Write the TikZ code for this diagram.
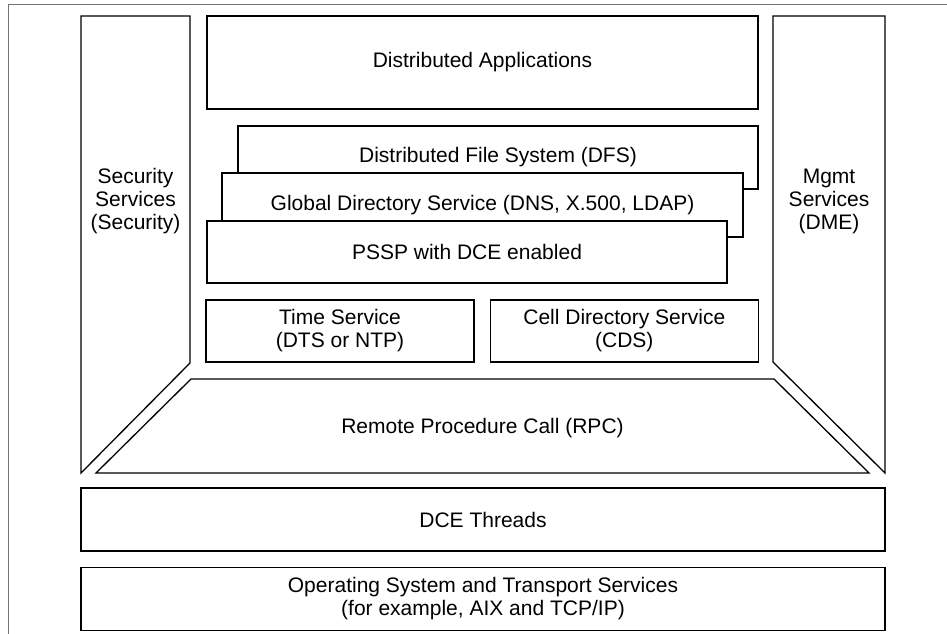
\documentclass[tikz,border=0pt]{standalone}
\usepackage{fontspec}
\setmainfont{Liberation Sans}
\usetikzlibrary{positioning}
\tikzset{
    block/.style = {draw, rectangle, fill=white, line width=1.3pt,
        inner sep=0pt, align=center},
    layer/.style = {draw, line width=1.3pt, line join=miter},
    layertext/.style = {align=center, inner sep=0pt},
    frame/.style = {draw=black!55, line width=1pt}
}
\newcommand{\dcefont}{\fontsize{21}{23}\selectfont}

\begin{document}
\begin{tikzpicture}[x=1pt, y=-1pt, font=\dcefont, node distance=16pt]
        \useasboundingbox (0,0) rectangle (947,634);
        \draw [frame] (8,634) -- (8,5) -- (947,5);
        % side pillars
        \draw [layer] (81,16) -- (190,16) -- (190,363) -- (81,473) -- cycle;
        \node [layertext] (sec) at (135.5,201) {Security\\Services\\(Security)};
        \draw [layer] (773,16) -- (885,16) -- (885,473) -- (773,362) -- cycle;
        \node [layertext] (mgmt) at (829,201) {Mgmt\\Services\\(DME)};
        % stacked services
        \node [block, minimum width=551pt, minimum height=93pt] (apps) at (482.5,62.5) {Distributed Applications};
        \node [block, minimum width=520pt, minimum height=63pt] (dfs) at (498,157.5) {Distributed File System (DFS)};
        \node [block, minimum width=521pt, minimum height=64pt] (gds) at (482.5,205) {Global Directory Service (DNS, X.500, LDAP)};
        \node [block, minimum width=520pt, minimum height=62pt] (pssp) at (467,252) {PSSP with DCE enabled};
        \node [block, minimum width=268pt, minimum height=62pt] (time) at (340,331) {Time Service\\(DTS or NTP)};
        \node [block, minimum width=268pt, minimum height=62pt, right=15pt of time] (cds) {Cell Directory Service\\(CDS)};
        % rpc layer
        \draw [layer] (191,379) -- (774,379) -- (869,473) -- (96,473) -- cycle;
        \node [layertext] (rpc) at (482.5,428) {Remote Procedure Call (RPC)};
        \node [block, minimum width=804pt, minimum height=63pt] (threads) at (483,519.5) {DCE Threads};
        \node [block, minimum width=804pt, minimum height=63pt, below=15pt of threads] (os) {Operating System and Transport Services\\(for example, AIX and TCP/IP)};
    \end{tikzpicture}
\end{document}
